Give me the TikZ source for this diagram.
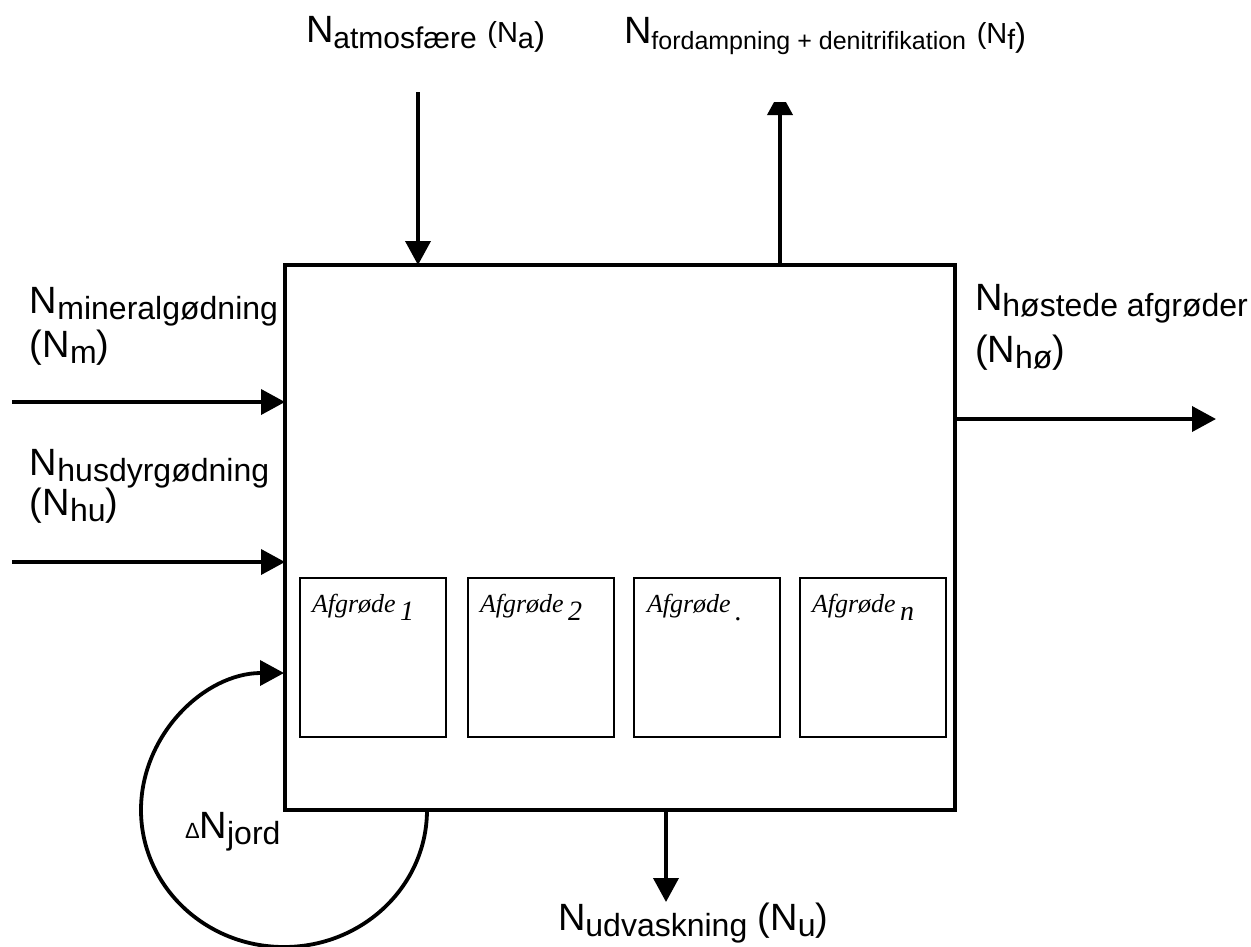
\documentclass[tikz,border=0pt]{standalone}
\usepackage{fontspec}
\setmainfont{Liberation Sans}
\newfontfamily\serifit{Liberation Serif}
\usetikzlibrary{arrows.meta}
\newcommand{\sbs}[2][32]{\raisebox{-6.5pt}{\fontsize{#1}{#1}\selectfont #2}}
\newcommand{\fsz}[2]{{\fontsize{#1}{#1}\selectfont #2}}
\newcommand{\crt}[1]{{\serifit\itshape\fontsize{26}{26}\selectfont Afgrøde\,\raisebox{-8pt}{\fontsize{28}{28}\selectfont #1}}}
\begin{document}
\begin{tikzpicture}[x=1pt,y=-1pt,
  lbl/.style={anchor=base west, inner sep=0pt, outer sep=0pt, font=\fontsize{38}{44}\selectfont},
  arr/.style={line width=3.8pt, -{Triangle[length=24pt,width=25pt]}},
  cropbox/.style={draw, line width=1.6pt, minimum width=146pt, minimum height=159pt, inner sep=0pt, outer sep=0pt},
  croptxt/.style={anchor=base west, inner sep=0pt, outer sep=0pt}]
\useasboundingbox (0,0) rectangle (1251,946);
% main system box
\node[draw, line width=3.8pt, minimum width=670pt, minimum height=545pt, inner sep=0pt, outer sep=0pt] (sys) at (620,537.5) {};
% crop boxes
\node[cropbox] (c1) at (373,657.5) {};
\node[cropbox] (c2) at (541,657.5) {};
\node[cropbox] (c3) at (707,657.5) {};
\node[cropbox] (c4) at (873,657.5) {};
\node[croptxt] (t1) at (312,612) {\crt{1}};
\node[croptxt] (t2) at (480,612) {\crt{2}};
\node[croptxt] (t3) at (647,612) {\crt{.}};
\node[croptxt] (t4) at (812,612) {\crt{\itshape n}};
% labels
\node[lbl] (la) at (306,42) {N\sbs[30]{atmosfære} \fsz{29}{(N}\sbs[29]{a}\raisebox{-3pt}{\fsz{33}{)}}};
\node[lbl] (lf) at (624,43) {N\sbs[25]{fordampning + denitrifikation} \fsz{29}{(N}\sbs[28]{f}\raisebox{-3pt}{\fsz{33}{)}}};
\node[lbl] (lm1) at (30,313) {N\sbs{mineralgødning}};
\node[lbl] (lm2) at (30,357) {(N\sbs{m})};
\node[lbl] (lh1) at (30,475) {N\sbs{husdyrgødning}};
\node[lbl] (lh2) at (30,515) {(N\sbs{hu})};
\node[lbl] (lo1) at (975,310) {N\sbs{høstede afgrøder}};
\node[lbl] (lo2) at (975,362) {(N\sbs{hø})};
\node[lbl] (lu) at (558,930) {N\sbs{udvaskning} (N\sbs{u})};
\node[lbl] (lj) at (185,838) {\fsz{22}{Δ}N\sbs{jord}};
% connectors
\coordinate (ain) at (418,92);
\draw[arr] (ain) -- (ain |- sys.north);
\coordinate (fout) at (780,91);
\begin{scope}
\clip (0,102) rectangle (1251,946);
\draw[arr] (fout |- sys.north) -- (fout);
\end{scope}
\coordinate (min) at (12,402);
\draw[arr] (min) -- (min -| sys.west);
\coordinate (hin) at (12,562);
\draw[arr] (hin) -- (hin -| sys.west);
\coordinate (hout) at (1216,419);
\draw[arr] (hout -| sys.east) -- (hout);
\coordinate (uout) at (666,902);
\draw[arr] (uout |- sys.south) -- (uout);
\coordinate (jx) at (427,0);
\draw[arr] (jx |- sys.south) arc[start angle=0, end angle=270, x radius=143, y radius=137];
\end{tikzpicture}
\end{document}
